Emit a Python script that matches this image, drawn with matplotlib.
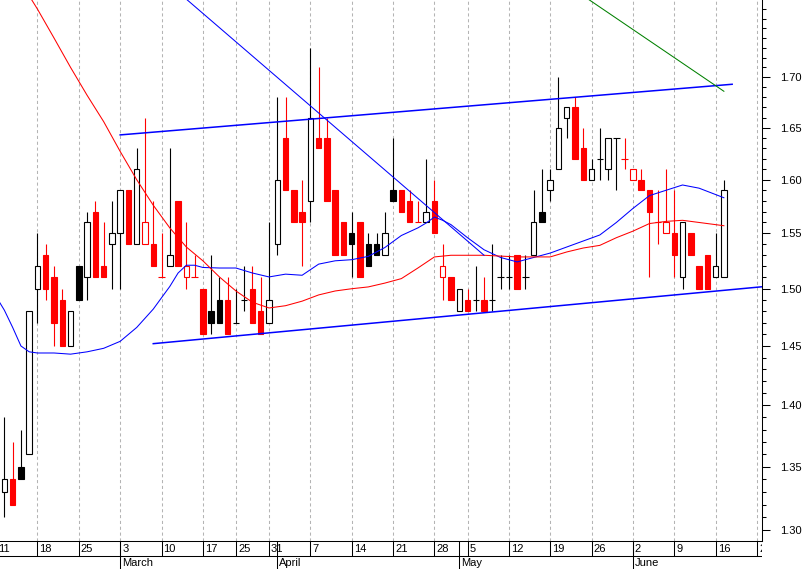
import numpy as np
import pandas as pd
import matplotlib
matplotlib.use("Agg")
import matplotlib.pyplot as plt
from matplotlib.transforms import offset_copy
from matplotlib.ticker import FormatStrFormatter, NullFormatter

plt.rcParams["font.family"] = ["Liberation Sans", "DejaVu Sans"]

# trading calendar (Feb 12 is the first candle)
start_day = "2008-02-11"
end_day = "2008-06-27"
holidays = ["2008-03-21", "2008-03-24", "2008-05-01"]
first_candle = "2008-02-12"

opens = [1.33, 1.34, 1.35, 1.36, 1.50, 1.53, 1.51, 1.49, 1.45, 1.52,
         1.51, 1.57, 1.52, 1.54, 1.55, 1.59, 1.54, 1.54, 1.54, 1.51,
         1.52, 1.58, 1.51, 1.51, 1.50, 1.48, 1.49, 1.49, 1.47, 1.49,
         1.50, 1.48, 1.47, 1.54, 1.64, 1.59, 1.57, 1.58, 1.64, 1.64,
         1.59, 1.56, 1.55, 1.56, 1.54, 1.54, 1.53, 1.59, 1.59, 1.58,
         1.56, 1.56, 1.58, 1.51, 1.51, 1.48, 1.49, 1.49, 1.49, 1.49,
         1.51, 1.51, 1.53, 1.51, 1.53, 1.57, 1.59, 1.61, 1.66, 1.67,
         1.63, 1.60, 1.62, 1.61, 1.64, 1.62, 1.60, 1.60, 1.59, 1.56,
         1.55, 1.55, 1.51, 1.55, 1.52, 1.53, 1.51, 1.51]
highs = [1.39, 1.37, 1.38, 1.48, 1.55, 1.54, 1.52, 1.50, 1.48, 1.52,
         1.57, 1.58, 1.56, 1.58, 1.59, 1.59, 1.63, 1.66, 1.58, 1.55,
         1.63, 1.58, 1.56, 1.53, 1.50, 1.53, 1.51, 1.51, 1.50, 1.52,
         1.52, 1.51, 1.56, 1.68, 1.68, 1.59, 1.60, 1.73, 1.71, 1.66,
         1.59, 1.56, 1.57, 1.56, 1.55, 1.55, 1.57, 1.64, 1.59, 1.59,
         1.58, 1.62, 1.60, 1.54, 1.51, 1.50, 1.50, 1.52, 1.51, 1.54,
         1.53, 1.53, 1.53, 1.53, 1.59, 1.61, 1.61, 1.70, 1.67, 1.68,
         1.65, 1.62, 1.65, 1.64, 1.64, 1.64, 1.61, 1.61, 1.59, 1.59,
         1.61, 1.59, 1.56, 1.55, 1.52, 1.53, 1.55, 1.60]
lows = [1.31, 1.32, 1.34, 1.36, 1.47, 1.49, 1.45, 1.45, 1.45, 1.49,
        1.49, 1.51, 1.51, 1.50, 1.50, 1.54, 1.54, 1.54, 1.52, 1.51,
        1.52, 1.52, 1.50, 1.51, 1.46, 1.46, 1.47, 1.46, 1.47, 1.48,
        1.47, 1.46, 1.47, 1.53, 1.59, 1.56, 1.52, 1.56, 1.63, 1.58,
        1.53, 1.53, 1.51, 1.51, 1.52, 1.53, 1.53, 1.58, 1.57, 1.56,
        1.56, 1.56, 1.55, 1.49, 1.49, 1.48, 1.48, 1.48, 1.48, 1.48,
        1.50, 1.50, 1.50, 1.50, 1.53, 1.56, 1.58, 1.61, 1.64, 1.62,
        1.60, 1.60, 1.60, 1.60, 1.59, 1.61, 1.60, 1.59, 1.51, 1.54,
        1.55, 1.51, 1.50, 1.53, 1.50, 1.50, 1.51, 1.51]
closes = [1.34, 1.32, 1.34, 1.48, 1.52, 1.50, 1.47, 1.45, 1.48, 1.49,
          1.56, 1.51, 1.51, 1.55, 1.59, 1.54, 1.61, 1.56, 1.52, 1.51,
          1.53, 1.52, 1.52, 1.51, 1.46, 1.47, 1.47, 1.46, 1.47, 1.49,
          1.47, 1.46, 1.49, 1.60, 1.59, 1.56, 1.56, 1.66, 1.63, 1.58,
          1.53, 1.53, 1.54, 1.51, 1.52, 1.53, 1.55, 1.58, 1.57, 1.56,
          1.56, 1.57, 1.55, 1.52, 1.49, 1.50, 1.48, 1.49, 1.48, 1.49,
          1.51, 1.51, 1.50, 1.51, 1.56, 1.56, 1.60, 1.65, 1.67, 1.62,
          1.60, 1.61, 1.62, 1.64, 1.64, 1.62, 1.61, 1.59, 1.57, 1.56,
          1.56, 1.53, 1.56, 1.53, 1.50, 1.50, 1.52, 1.59]

# moving averages (candle index, price)
blue_ma_idx = [-1, 0, 1, 2, 3, 4, 6, 8, 10, 12, 14, 16, 18, 19, 20, 21, 22, 23,
               24, 26, 28, 30, 32, 34, 36, 38, 40, 42, 44, 46, 48, 50, 51, 52,
               53, 54, 56, 58, 60, 62, 64, 66, 68, 70, 72, 74, 76, 78, 80, 82,
               84, 86, 87]
blue_ma = [1.493, 1.481, 1.466, 1.450, 1.445, 1.444, 1.444, 1.443, 1.445, 1.448,
           1.454, 1.466, 1.482, 1.492, 1.502, 1.514, 1.521, 1.521, 1.519, 1.5185,
           1.5185, 1.514, 1.5105, 1.513, 1.512, 1.522, 1.525, 1.526, 1.529, 1.537,
           1.548, 1.555, 1.5595, 1.565, 1.562, 1.558, 1.546, 1.535, 1.528, 1.524,
           1.528, 1.532, 1.5375, 1.543, 1.5485, 1.560, 1.573, 1.585, 1.590, 1.595,
           1.592, 1.586, 1.583]
red_ma_idx = [3, 4, 6, 8, 10, 12, 14, 16, 18, 20, 22, 24, 26, 28, 30, 32, 34, 36,
              38, 40, 42, 44, 46, 48, 50, 52, 54, 58, 62, 66, 68, 70, 72, 74, 76,
              78, 80, 82, 84, 86, 87]
red_ma = [1.784, 1.770, 1.740, 1.710, 1.682, 1.656, 1.627, 1.600, 1.576, 1.555,
          1.5375, 1.525, 1.5105, 1.498, 1.488, 1.483, 1.485, 1.489, 1.4945, 1.498,
          1.500, 1.5016, 1.505, 1.509, 1.5185, 1.5285, 1.530, 1.530, 1.5285, 1.5285,
          1.533, 1.5366, 1.539, 1.546, 1.552, 1.559, 1.561, 1.562, 1.560, 1.558,
          1.557]

# trend lines: (start date, start price, end date, end price)
upper_channel = ("2008-03-03", 1.643, "2008-06-18", 1.693)
lower_channel = ("2008-03-07", 1.452, "2008-06-24", 1.502)
down_line = ("2008-03-12", 1.788, "2008-05-07", 1.530)
green_line = ("2008-05-23", 1.784, "2008-06-17", 1.686)

major_ticks = [1.30, 1.35, 1.40, 1.45, 1.50, 1.55, 1.60, 1.65, 1.70]
minor_ticks = [round(1.30 + 0.01 * k, 2) for k in range(48)]


def main():
    days = pd.bdate_range(start_day, end_day)
    days = days[~days.isin(pd.to_datetime(holidays))]
    offset = days.get_loc(pd.Timestamp(first_candle))
    pos = pd.Series(np.arange(len(days)) - offset, index=days)

    iso = days.isocalendar()
    week_first = ~pd.Series(list(zip(iso.year, iso.week))).duplicated().values
    week_days = days[week_first]
    month_first = np.r_[False, days.month[1:] != days.month[:-1]]
    month_days = days[month_first]

    fig = plt.figure(figsize=(8.06, 5.69), dpi=100)
    ax = fig.add_axes([0, 28 / 569, 762 / 806, 541 / 569])
    band = fig.add_axes([0, 0, 762 / 806, 28 / 569])

    xlim = (-0.532, 91.61)
    ax.set_xlim(*xlim)
    ax.set_yscale("log")
    ax.set_ylim(1.2919, 1.7796)

    for d in week_days:
        ax.axvline(pos[d], color="#b4b4b4", lw=0.75, ls=(0, (3, 2.6)), zorder=0)

    n = len(closes)
    x = np.arange(n)
    colors = []
    last = "black"
    for k in range(n):
        if k > 0 and closes[k] > closes[k - 1]:
            last = "black"
        elif k > 0 and closes[k] < closes[k - 1]:
            last = "red"
        colors.append(last)

    ax.vlines(x, lows, highs, colors=colors, lw=0.8, zorder=2)
    w = 0.66
    for k in range(n):
        o, c = opens[k], closes[k]
        if c > o:
            ax.bar(x[k], c - o, bottom=o, width=w, facecolor="white",
                   edgecolor=colors[k], linewidth=0.8, zorder=3)
        elif c < o:
            ax.bar(x[k], o - c, bottom=c, width=w, facecolor=colors[k],
                   edgecolor=colors[k], linewidth=0.8, zorder=3)
        else:
            ax.hlines(o, x[k] - w / 2 - 0.05, x[k] + w / 2 + 0.05,
                      colors=colors[k], lw=0.8, zorder=3)

    ax.plot(blue_ma_idx, blue_ma, color="#0000ff", lw=0.75, zorder=4)
    ax.plot(red_ma_idx, red_ma, color="#ff0000", lw=0.75, zorder=4)

    for line, col, lw in [(upper_channel, "#0000ff", 1.1),
                          (lower_channel, "#0000ff", 1.1),
                          (down_line, "#0000ff", 0.75),
                          (green_line, "#008000", 0.75)]:
        d0, p0, d1, p1 = line
        ax.plot([pos[pd.Timestamp(d0)], pos[pd.Timestamp(d1)]], [p0, p1],
                color=col, lw=lw, zorder=4)

    ax.yaxis.tick_right()
    ax.set_yticks(major_ticks)
    ax.set_yticks([t for t in minor_ticks if t not in major_ticks], minor=True)
    ax.yaxis.set_major_formatter(FormatStrFormatter("%.2f"))
    ax.yaxis.set_minor_formatter(NullFormatter())
    ax.tick_params(axis="y", which="major", length=5.8, width=0.75, pad=7.2,
                   labelsize=8, colors="black")
    ax.tick_params(axis="y", which="minor", length=2.9, width=0.75)
    ax.tick_params(axis="x", bottom=False, labelbottom=False)
    for s in ["left", "top"]:
        ax.spines[s].set_visible(False)
    for s in ["right", "bottom"]:
        ax.spines[s].set_linewidth(0.75)

    # date band under the chart
    band.set_xlim(*xlim)
    band.set_ylim(0, 28)
    band.axis("off")
    band.axhline(13, color="black", lw=0.75)
    band.vlines([pos[d] for d in week_days], 13, 28, colors="black", lw=0.75)
    band.vlines([pos[d] for d in month_days], 0, 28, colors="black", lw=0.75)
    shifted = offset_copy(band.transData, fig=fig, x=2, y=0, units="dots")
    for d in week_days:
        band.text(pos[d], 20.5, str(d.day), transform=shifted, fontsize=8,
                  va="center", ha="left", clip_on=True)
    for d in month_days:
        band.text(pos[d], 6, d.strftime("%B"), transform=shifted, fontsize=8,
                  va="center", ha="left", clip_on=True)

    fig.savefig("out.png", dpi=100)


if __name__ == "__main__":
    main()
